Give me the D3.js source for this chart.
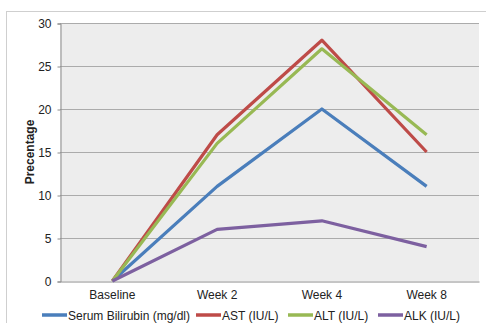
<!DOCTYPE html>
<html><head><meta charset="utf-8">
<script src="https://cdn.jsdelivr.net/npm/d3@7"></script>
<style>body{margin:0;background:#fff}svg{display:block;font-family:"Liberation Sans",Arial,sans-serif}</style>
</head><body>
<svg id="c" width="486" height="323"></svg>
<script>
const categories = ["Baseline", "Week 2", "Week 4", "Week 8"];
const seriesNames = ["Serum Bilirubin (mg/dl)", "AST (IU/L)", "ALT (IU/L)", "ALK (IU/L)"];
const bilirubin = [0, 11, 20, 11];
const ast = [0, 17, 28, 15];
const alt = [0, 16, 27, 17];
const alk = [0, 6, 7, 4];
const yTicks = [0, 5, 10, 15, 20, 25, 30];
const colors = ["#4a7ebb", "#be4b48", "#98b954", "#7d60a0"];

const svg = d3.select("#c");
const m = {l: 60, r: 479, t: 23, b: 281};

svg.append("rect").attr("x", 6.5).attr("y", 11.5).attr("width", 490).attr("height", 330)
  .attr("fill", "#fff").attr("stroke", "#cfcfcf");
svg.append("rect").attr("x", m.l).attr("y", m.t).attr("width", m.r - m.l).attr("height", m.b - m.t)
  .attr("fill", "#ededed");

const x = d3.scaleBand().domain(categories).range([m.l, m.r]);
const y = d3.scaleLinear().domain([0, 30]).range([m.b, m.t]);

// gridlines
svg.append("g").selectAll("line").data(yTicks.filter(d => d > 0)).join("line")
  .attr("x1", m.l).attr("x2", m.r).attr("y1", d => y(d) + 0.5).attr("y2", d => y(d) + 0.5)
  .attr("stroke", "#ababab").attr("stroke-width", 1);

const yAxis = svg.append("g").attr("transform", `translate(${m.l + 0.5},0.5)`)
  .call(d3.axisLeft(y).tickValues(yTicks).tickSize(3).tickPadding(6));
yAxis.select(".domain").attr("stroke", "#8c8c8c");
yAxis.selectAll(".tick line").attr("stroke", "#8c8c8c");
yAxis.selectAll("text").attr("font-size", 12).attr("fill", "#222").attr("font-family", "Liberation Sans, Arial, sans-serif");

const xAxis = svg.append("g").attr("transform", `translate(0,${m.b + 0.5})`)
  .call(d3.axisBottom(x).tickSize(0).tickPadding(9));
xAxis.select(".domain").attr("stroke", "#8c8c8c");
xAxis.selectAll("text").attr("font-size", 12).attr("fill", "#222").attr("font-family", "Liberation Sans, Arial, sans-serif");

svg.append("text").attr("transform", `translate(34,${(m.t + m.b) / 2}) rotate(-90)`)
  .attr("text-anchor", "middle").attr("font-size", 12).attr("font-weight", "bold").attr("fill", "#222")
  .text("Precentage");

const allSeries = [bilirubin, ast, alt, alk];
const line = d3.line().x((d, i) => x(categories[i]) + x.bandwidth() / 2).y(d => y(d));
svg.append("g").selectAll("path").data(allSeries).join("path")
  .attr("d", d => line(d)).attr("fill", "none")
  .attr("stroke", (d, i) => colors[i]).attr("stroke-width", 3.2).attr("stroke-linejoin", "round");

// legend
const legendX = [42, 196, 288, 378];
const lg = svg.append("g").selectAll("g").data(seriesNames).join("g")
  .attr("transform", (d, i) => `translate(${legendX[i]},315)`);
lg.append("line").attr("x1", 0).attr("x2", 25).attr("y1", 0).attr("y2", 0)
  .attr("stroke", (d, i) => colors[i]).attr("stroke-width", 3.5);
lg.append("text").attr("x", 26).attr("y", 4.5).attr("font-size", 12).attr("fill", "#222").text(d => d);
</script>
</body></html>
